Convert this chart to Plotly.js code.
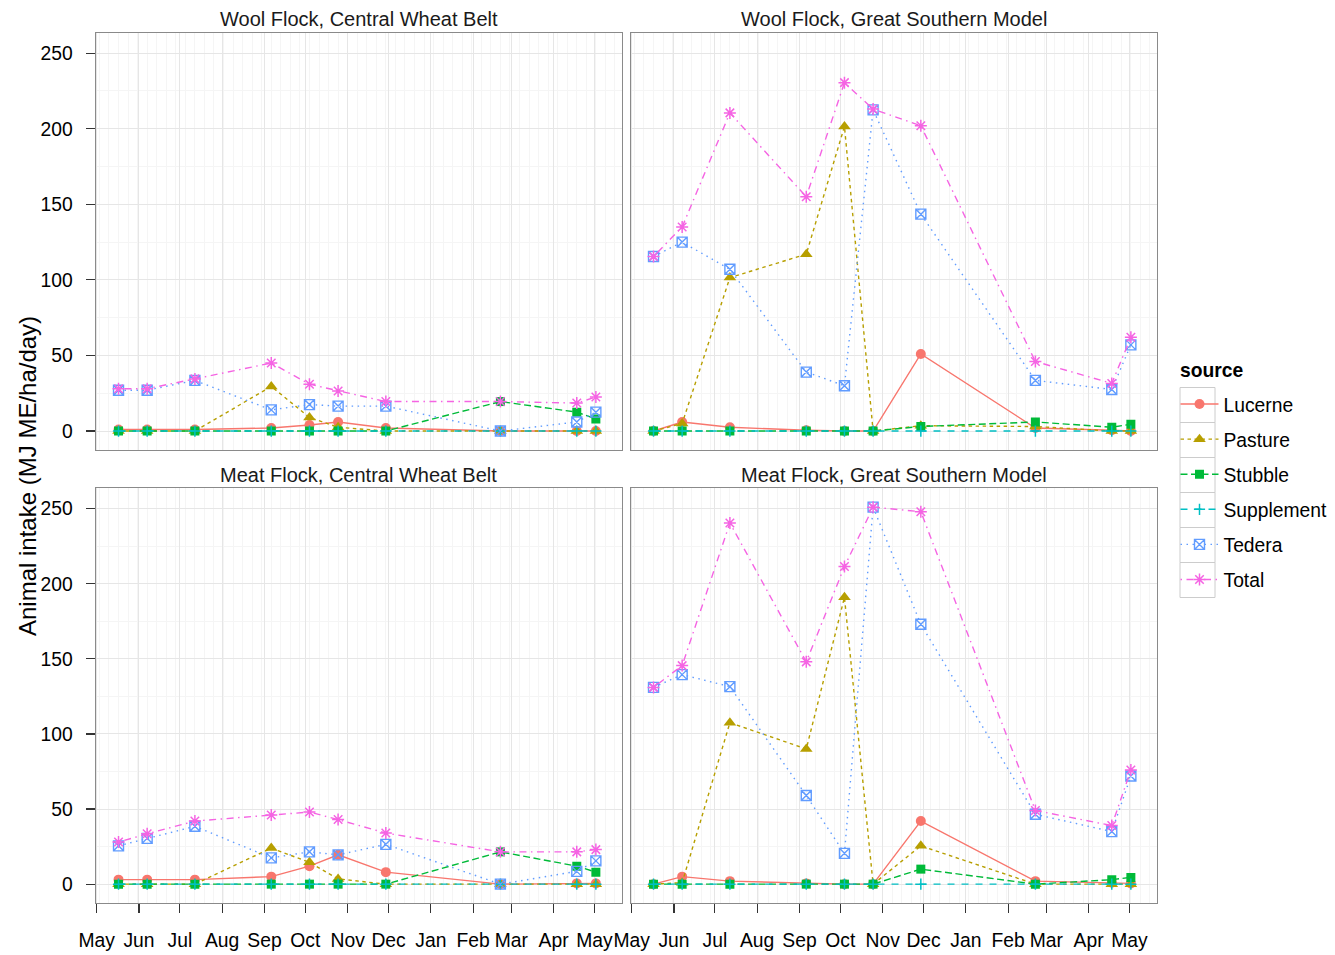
<!DOCTYPE html>
<html>
<head>
<meta charset="utf-8">
<script src="https://cdn.plot.ly/plotly-3.0.1.min.js"></script>
<style>
  html, body { margin: 0; padding: 0; background: #ffffff; }
  #chart { width: 1335px; height: 955px; }
</style>
</head>
<body>
<div id="chart"></div>
<script>
// Sampling dates (shared by every panel)
const sampleDates = ['2013-05-17', '2013-06-07', '2013-07-12', '2013-09-06', '2013-10-04',
                     '2013-10-25', '2013-11-29', '2014-02-21', '2014-04-18', '2014-05-02'];

const sources = ['Lucerne', 'Pasture', 'Stubble', 'Supplement', 'Tedera', 'Total'];

const panelTitles = ['Wool Flock, Central Wheat Belt', 'Wool Flock, Great Southern Model',
                     'Meat Flock, Central Wheat Belt', 'Meat Flock, Great Southern Model'];

// Animal intake (MJ ME/ha/day) by source
const woolCWB_Lucerne    = [1, 1, 1, 2, 4, 6, 2, 0, 0, 0];
const woolCWB_Pasture    = [0, 0, 0, 29.5, 9, 2.5, 0, 0, 0, 0];
const woolCWB_Stubble    = [0, 0, 0, 0, 0, 0, 0, 19.5, 12.5, 8];
const woolCWB_Supplement = [0, 0, 0, 0, 0, 0, 0, 0, 0, 0];
const woolCWB_Tedera     = [27, 27, 33.5, 14, 17.5, 16.5, 16.5, 0, 6, 12.5];
const woolCWB_Total      = [28, 28, 34.5, 45, 31, 26.5, 19.5, 19.5, 18.5, 22.5];

const woolGSM_Lucerne    = [0, 6, 2.5, 0.5, 0, 0, 51, 2, 0.5, 0];
const woolGSM_Pasture    = [0, 5, 101.5, 117, 201.5, 0, 3.5, 3, 0, 0];
const woolGSM_Stubble    = [0, 0, 0, 0, 0, 0, 3, 6, 2.5, 4.5];
const woolGSM_Supplement = [0, 0, 0, 0, 0, 0, 0, 0, 0, 0];
const woolGSM_Tedera     = [115.5, 125, 107, 39, 30, 212.5, 143.5, 33.5, 27.5, 57];
const woolGSM_Total      = [115.5, 135, 210.5, 155, 230.5, 213, 202, 46, 31.5, 62];

const meatCWB_Lucerne    = [3, 3, 3, 5, 12, 19.5, 8, 0, 0.5, 0.5];
const meatCWB_Pasture    = [0, 0, 0, 24, 14.5, 3.5, 0, 0, 0, 0];
const meatCWB_Stubble    = [0, 0, 0, 0, 0, 0, 0, 21.5, 12, 8];
const meatCWB_Supplement = [0, 0, 0, 0, 0, 0, 0, 0, 0, 0];
const meatCWB_Tedera     = [25.5, 30.5, 38.5, 17.5, 21.5, 19.5, 26.5, 0, 8.5, 15.5];
const meatCWB_Total      = [28, 33.5, 42, 46, 48, 43, 34, 21.5, 21.5, 23];

const meatGSM_Lucerne    = [0, 5, 2, 0.5, 0, 0, 42, 2, 1, 0.5];
const meatGSM_Pasture    = [0, 1, 107.5, 90, 191, 0, 25.5, 0, 0, 0];
const meatGSM_Stubble    = [0, 0, 0, 0, 0, 0, 10, 0, 3, 4.5];
const meatGSM_Supplement = [0, 0, 0, 0, 0, 0, 0, 0, 0, 0];
const meatGSM_Tedera     = [131, 139.5, 131.5, 59, 20.5, 251, 173, 46.5, 35, 72];
const meatGSM_Total      = [131, 145.5, 240.5, 148, 211.5, 251, 248, 49, 39, 76];

const panelSeries = [
  [woolCWB_Lucerne, woolCWB_Pasture, woolCWB_Stubble, woolCWB_Supplement, woolCWB_Tedera, woolCWB_Total],
  [woolGSM_Lucerne, woolGSM_Pasture, woolGSM_Stubble, woolGSM_Supplement, woolGSM_Tedera, woolGSM_Total],
  [meatCWB_Lucerne, meatCWB_Pasture, meatCWB_Stubble, meatCWB_Supplement, meatCWB_Tedera, meatCWB_Total],
  [meatGSM_Lucerne, meatGSM_Pasture, meatGSM_Stubble, meatGSM_Supplement, meatGSM_Tedera, meatGSM_Total]
];

// Per-source styling
const colors  = ['#F8766D', '#B79F00', '#00BA38', '#00BFC4', '#619CFF', '#F564E3'];
const dashes  = ['solid', '3.5px,3.5px', '7px,3.5px', '7px,7px', '1.5px,4.5px', '1.5px,4.5px,7px,4.5px'];
const symbols = ['circle', 'triangle-up', 'square', 'cross-thin-open', 'square-x-open', 'asterisk-open'];
const msizes  = [10, 11, 9, 8, 10, 10];
const mlines  = [0, 0, 0, 1.5, 1.4, 1.5];

const W = 1335, H = 955;
const FONT = 'Liberation Sans, Arial, sans-serif';

// Panel rectangles in pixels (left, right, top, bottom)
const boxes = [
  [95.5, 621.5, 32.7, 450],
  [630.5, 1156.5, 32.7, 450],
  [95.5, 621.5, 488.3, 903],
  [630.5, 1156.5, 488.3, 903]
];

const traces = [];
panelSeries.forEach((series, p) => {
  const sfx = p === 0 ? '' : String(p + 1);
  series.forEach((vals, s) => {
    traces.push({
      type: 'scatter',
      mode: 'lines+markers',
      x: sampleDates,
      y: vals,
      xaxis: 'x' + sfx,
      yaxis: 'y' + sfx,
      name: sources[s],
      legendgroup: sources[s],
      showlegend: p === 0,
      line: { color: colors[s], width: 1.4, dash: dashes[s] },
      marker: { symbol: symbols[s], size: msizes[s], color: colors[s],
                line: { color: colors[s], width: mlines[s] } },
      hoverinfo: 'x+y+name'
    });
  });
});

const layout = {
  width: W, height: H,
  margin: { l: 0, r: 0, t: 0, b: 0 },
  paper_bgcolor: '#ffffff',
  plot_bgcolor: '#ffffff',
  font: { family: FONT, size: 19.3, color: '#000000' },
  showlegend: true,
  legend: {
    x: 1175.5 / W, xanchor: 'left',
    y: 1 - 385 / H, yanchor: 'top',
    font: { family: FONT, size: 19.3, color: '#000000' },
    itemwidth: 38,
    tracegroupgap: 7,
    bgcolor: 'rgba(0,0,0,0)',
    itemclick: false
  },
  annotations: [],
  shapes: []
};

boxes.forEach((b, p) => {
  const sfx = p === 0 ? '' : String(p + 1);
  const isBottom = p >= 2, isLeft = p % 2 === 0;
  layout['xaxis' + sfx] = {
    type: 'date',
    domain: [b[0] / W, b[1] / W],
    anchor: 'y' + sfx,
    range: ['2013-04-30 03:00', '2014-05-20 19:00'],
    tick0: '2013-05-01', dtick: 'M1', tickformat: '%b',
    showgrid: true, gridcolor: '#e6e6e6', gridwidth: 1,
    minor: { dtick: 7 * 86400000, tick0: '2013-05-03', showgrid: true, gridcolor: '#f5f5f5', gridwidth: 1, ticks: '' },
    showline: true, linecolor: '#8a8a8a', linewidth: 1, mirror: true,
    zeroline: false,
    ticks: isBottom ? 'outside' : '', ticklen: 9, tickwidth: 1.2, tickcolor: '#333333',
    showticklabels: isBottom,
    ticklabelstandoff: 11,
    tickfont: { family: FONT, size: 19.3, color: '#000000' },
    fixedrange: true
  };
  layout['yaxis' + sfx] = {
    domain: [1 - b[3] / H, 1 - b[2] / H],
    anchor: 'x' + sfx,
    range: [-12.55, 263.55],
    tick0: 0, dtick: 50,
    showgrid: true, gridcolor: '#e6e6e6', gridwidth: 1,
    minor: { dtick: 25, showgrid: true, gridcolor: '#f5f5f5', gridwidth: 1, ticks: '' },
    showline: true, linecolor: '#8a8a8a', linewidth: 1, mirror: true,
    zeroline: false,
    ticks: isLeft ? 'outside' : '', ticklen: 9, tickwidth: 1.2, tickcolor: '#333333',
    showticklabels: isLeft,
    ticklabelstandoff: 9,
    tickfont: { family: FONT, size: 19.3, color: '#000000' },
    fixedrange: true
  };
  // facet strip label
  layout.annotations.push({
    xref: 'paper', yref: 'paper',
    x: (b[0] + b[1]) / 2 / W, y: 1 - (b[2] - 13.5) / H,
    xanchor: 'center', yanchor: 'middle',
    text: panelTitles[p], showarrow: false,
    font: { family: FONT, size: 20, color: '#1a1a1a' }
  });
});

// shared y-axis title
layout.annotations.push({
  xref: 'paper', yref: 'paper',
  x: 27 / W, y: 1 - 476 / H,
  xanchor: 'center', yanchor: 'middle',
  text: 'Animal intake (MJ ME/ha/day)', textangle: -90, showarrow: false,
  font: { family: FONT, size: 24, color: '#000000' }
});

// legend title
layout.annotations.push({
  xref: 'paper', yref: 'paper',
  x: 1178 / W, y: 1 - 370 / H,
  xanchor: 'left', yanchor: 'middle',
  text: '<b>source</b>', showarrow: false,
  font: { family: FONT, size: 19.3, color: '#000000' }
});

// legend key boxes
sources.forEach((s, i) => {
  const top = 387.5 + 35 * i;
  layout.shapes.push({
    type: 'rect', xref: 'paper', yref: 'paper', layer: 'below',
    x0: 1180 / W, x1: 1215 / W, y0: 1 - (top + 35) / H, y1: 1 - top / H,
    line: { color: '#cccccc', width: 1 }, fillcolor: '#ffffff'
  });
});

Plotly.newPlot('chart', traces, layout, { staticPlot: true, displayModeBar: false });
</script>
</body>
</html>
